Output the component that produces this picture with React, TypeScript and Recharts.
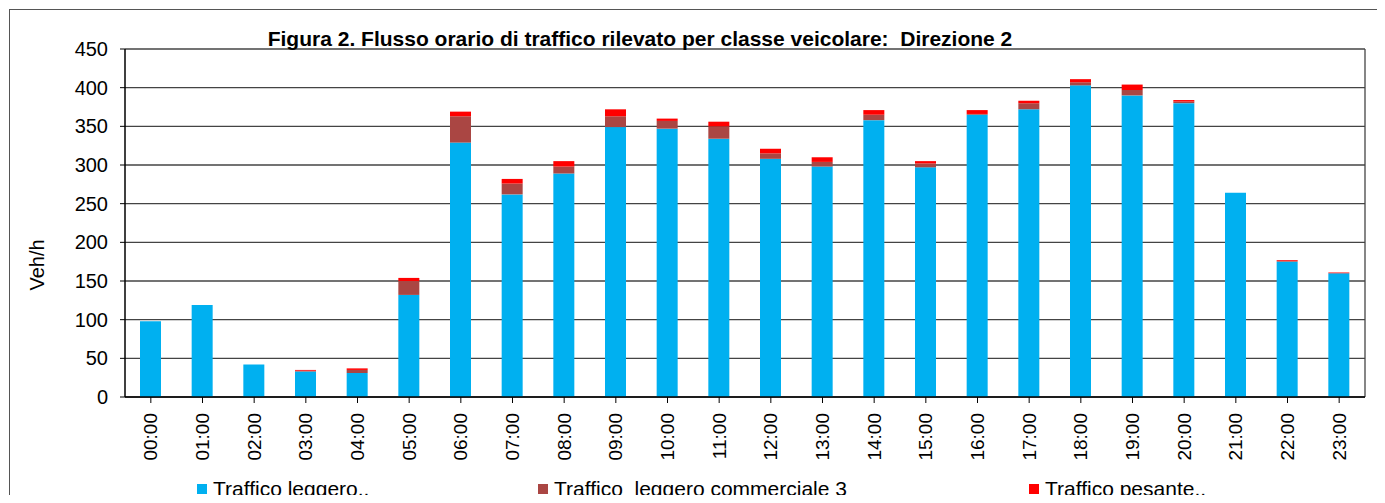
import { Bar, BarChart, CartesianGrid, Legend, XAxis, YAxis } from "recharts";

const hours = [
  "00:00", "01:00", "02:00", "03:00", "04:00", "05:00", "06:00", "07:00",
  "08:00", "09:00", "10:00", "11:00", "12:00", "13:00", "14:00", "15:00",
  "16:00", "17:00", "18:00", "19:00", "20:00", "21:00", "22:00", "23:00",
];
const leggero = [98, 119, 42, 33, 31, 132, 329, 262, 289, 349, 347, 334, 308, 298, 358, 297, 365, 372, 403, 390, 380, 264, 175, 160];
const commerciale = [0, 0, 0, 1, 4, 18, 34, 14, 9, 14, 10, 16, 7, 6, 7, 5, 1, 8, 4, 7, 2, 0, 1, 0];
const pesante = [0, 0, 0, 1, 2, 4, 6, 6, 7, 9, 3, 6, 6, 6, 6, 3, 5, 3, 4, 7, 2, 0, 1, 1];
const yTicks = [0, 50, 100, 150, 200, 250, 300, 350, 400, 450];

const seriesNames = ["Traffico leggero..", "Traffico  leggero commerciale 3", "Traffico pesante.."];
const seriesColors = ["#00B0F0", "#AA4643", "#FF0000"];

const data = hours.map((hour, i) => ({
  hour,
  leggero: leggero[i],
  commerciale: commerciale[i],
  pesante: pesante[i],
}));

const font = "'Liberation Sans', Arial, sans-serif";

function HourTick({ x, y, payload }: any) {
  return (
    <g transform={`translate(${x},${y})`}>
      <text transform="rotate(-90)" x={-8} y={0} dy="0.35em" textAnchor="end" fill="#000" fontSize={19} fontFamily={font}>
        {payload.value}
      </text>
    </g>
  );
}

function LegendRow() {
  const widths = [341, 491, 300];
  return (
    <div style={{ display: "flex", height: 26, fontFamily: font, fontSize: 21, color: "#000", whiteSpace: "pre" }}>
      {seriesNames.map((name, i) => (
        <div key={name} style={{ width: widths[i], display: "flex", alignItems: "center" }}>
          <span style={{ display: "inline-block", width: 10, height: 10, background: seriesColors[i], marginRight: 6 }} />
          <span>{name}</span>
        </div>
      ))}
    </div>
  );
}

export default function App() {
  return (
    <div style={{ position: "relative", width: 1385, height: 503, margin: -8, background: "#fff", overflow: "hidden" }}>
      <div style={{ position: "absolute", left: 0, top: 0, width: 1380, height: 2, background: "#222" }} />
      <div style={{ position: "absolute", left: 9, top: 9, width: 1368, height: 520, border: "1.5px solid #555" }} />
      <BarChart width={1385} height={503} data={data} margin={{ top: 49, right: 20, bottom: 20, left: 0 }} barSize={21}>
        <CartesianGrid stroke="#444" strokeWidth={1.3} verticalPoints={[1365]} />
        <XAxis
          dataKey="hour"
          interval={0}
          height={60}
          tickLine={{ stroke: "#000" }}
          axisLine={{ stroke: "#000", strokeWidth: 1.5 }}
          tickSize={6}
          tickMargin={2}
          tick={<HourTick />}
        />
        <YAxis
          domain={[0, 450]}
          ticks={yTicks}
          width={125}
          tickSize={5}
          tickMargin={12}
          tickLine={{ stroke: "#000" }}
          axisLine={{ stroke: "#000", strokeWidth: 1.5 }}
          tick={{ fill: "#000", fontSize: 20, fontFamily: font }}
          label={{
            content: () => (
              <text transform="translate(44,265) rotate(-90)" textAnchor="middle" fill="#000" fontSize={20} fontFamily={font}>
                Veh/h
              </text>
            ),
          }}
        />
        <Legend
          verticalAlign="bottom"
          content={<LegendRow />}
          wrapperStyle={{ left: 197, top: 476, width: 1150 }}
        />
        <Bar dataKey="leggero" stackId="a" fill={seriesColors[0]} name={seriesNames[0]} isAnimationActive={false} />
        <Bar dataKey="commerciale" stackId="a" fill={seriesColors[1]} name={seriesNames[1]} isAnimationActive={false} />
        <Bar dataKey="pesante" stackId="a" fill={seriesColors[2]} name={seriesNames[2]} isAnimationActive={false} />
      </BarChart>
      <div style={{ position: "absolute", left: 0, top: 27, width: 1280, textAlign: "center", fontFamily: font, fontSize: 21, fontWeight: "bold", color: "#000", whiteSpace: "pre" }}>
        Figura 2. Flusso orario di traffico rilevato per classe veicolare:  Direzione 2
      </div>
    </div>
  );
}
